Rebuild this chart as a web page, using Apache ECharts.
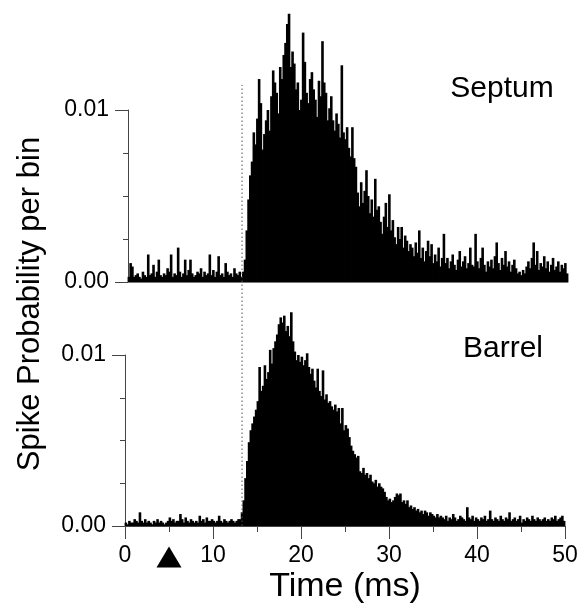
<!DOCTYPE html>
<html><head><meta charset="utf-8">
<script src="https://cdn.jsdelivr.net/npm/echarts@6/dist/echarts.min.js"></script>
<style>html,body{margin:0;padding:0;background:#fff}#c{width:581px;height:608px}</style>
</head><body><div id="c"></div>
<script>
// Peri-stimulus time histograms, 0.2 ms bins, values in units of 1e-4 spike probability per bin
const binWidthMs = 0.2;
const septumValues = [
  3,11,9,3,4,5,3,2,6,4, 3,16,4,5,10,3,6,13,4,3, 5,4,8,6,16,3,5,4,20,6,
  3,5,13,4,7,13,5,3,4,6, 5,8,3,6,4,5,16,4,7,3, 6,15,4,5,3,11,6,4,5,3,
  8,5,4,6,3,
  6,13,30,48,62, 70,87,80,95,118, 104,77,86,94,100, 88,108,123,116,110,
  98,125,118,132,139, 150,156,125,134,127, 112,116,100,106,145, 128,110,104,118,122,
  112,106,96,117,108, 140,116,110,94,101, 108,94,88,98,92, 84,126,87,83,90,
  78,73,90,72,67, 52,44,58,46,53, 65,50,40,48,38, 60,42,44,35,28,
  38,46,32,51,30, 36,26,22,32,25, 32,20,27,24,18, 22,20,15,23,17,
  30,14,20,12,18, 24,15,22,11,16, 12,20,9,14,28,
  11,14,8,12,16, 10,7,13,18,9, 12,15,8,11,20, 10,9,28,12,8,
  14,20,10,6,12, 9,13,8,15,23, 11,7,14,10,18, 9,12,6,10,13,
  8,5,6,4,7, 5,9,12,8,14, 23,10,18,7,11, 9,15,8,12,6,
  10,14,7,9,12, 6,10,8,11,5
];
const barrelValues = [
  2,1,3,2,2,4,3,2,8,3, 2,4,2,3,2,1,3,2,4,2, 3,2,1,2,3,5,3,4,2,3,
  3,7,4,2,5,3,2,4,3,2, 3,2,6,3,4,2,5,3,3,4, 3,2,3,6,3,2,4,3,2,3,
  4,3,2,3,4,
  4,8,15,28,38, 49,56,60,64,68, 73,93,79,82,94, 86,90,103,95,104,
  108,112,118,122,119, 123,114,117,111,125, 108,102,97,100,96, 99,94,97,101,93,
  89,92,85,81,92, 79,76,91,74,77, 72,73,70,68,71, 67,69,60,69,56,
  59,57,52,47,44, 42,40,41,32,31, 34,30,31,28,30, 26,25,27,23,25,
  23,22,20,17,15, 16,14,15,17,19, 18,19,14,15,13, 15,11,12,10,11,
  9,10,8,9,7, 9,8,6,8,7, 6,5,7,5,6,
  5,4,6,3,5,4,7,5,3,4, 6,5,4,3,11,5,4,6,3,5, 4,3,5,4,6,3,4,9,4,3,
  5,4,3,6,4,3,5,4,8,3, 4,5,3,4,6,2,4,3,5,4, 3,6,4,3,5,4,3,4,5,3,
  4,3,5,4,6,3,4,5,6,3
];
const xTickValues = [0, 10, 20, 30, 40, 50];
const yTickValues = [0.00, 0.01];
const stimulusTimeMs = [5];
const onsetTimeMs = [13.3];
const onsetLineTop = 0.0258; // upper end of the dotted onset line, in bottom-panel units
const panelLabels = ['Septum', 'Barrel'];

const FONT = '"Liberation Sans", Arial, Helvetica, sans-serif';
const AXIS_COLOR = '#444';

function toPairs(vals) {
  return vals.map((v, i) => [(i + 0.5) * binWidthMs, v / 10000]);
}

function yAxisCfg(gridIndex) {
  return {
    type: 'value', gridIndex: gridIndex,
    min: yTickValues[0], max: yTickValues[yTickValues.length - 1],
    interval: yTickValues[1] - yTickValues[0],
    axisLine: { show: true, lineStyle: { color: AXIS_COLOR, width: 1 } },
    axisTick: { show: true, length: 13, lineStyle: { color: AXIS_COLOR } },
    minorTick: { show: true, splitNumber: 4, length: 5, lineStyle: { color: AXIS_COLOR } },
    axisLabel: { show: true, formatter: v => v.toFixed(2), fontSize: 23, color: '#000', fontFamily: FONT, margin: 19 },
    splitLine: { show: false }, minorSplitLine: { show: false }
  };
}

const chart = echarts.init(document.getElementById('c'), null, { renderer: 'canvas' });
chart.setOption({
  animation: false,
  backgroundColor: '#fff',
  grid: [
    { left: 128, top: 110, width: 440, height: 172, containLabel: false, outerBoundsMode: 'none' },
    { left: 125, top: 355, width: 440, height: 171, containLabel: false, outerBoundsMode: 'none' }
  ],
  xAxis: [
    { type: 'value', gridIndex: 0, min: xTickValues[0], max: xTickValues[xTickValues.length - 1], interval: 10,
      axisLine: { show: true, lineStyle: { color: '#777', width: 1 } },
      axisTick: { show: false }, axisLabel: { show: false }, splitLine: { show: false } },
    { type: 'value', gridIndex: 1, min: xTickValues[0], max: xTickValues[xTickValues.length - 1], interval: 10,
      axisLine: { show: true, lineStyle: { color: AXIS_COLOR, width: 1 } },
      axisTick: { show: true, length: 13, lineStyle: { color: AXIS_COLOR } },
      minorTick: { show: true, splitNumber: 2, length: 6, lineStyle: { color: AXIS_COLOR } },
      axisLabel: { show: true, fontSize: 23, color: '#000', fontFamily: FONT, margin: 18 },
      splitLine: { show: false }, minorSplitLine: { show: false },
      name: 'Time (ms)', nameLocation: 'middle', nameGap: 44,
      nameTextStyle: { fontSize: 34, color: '#000', fontFamily: FONT } }
  ],
  yAxis: [yAxisCfg(0), yAxisCfg(1)],
  graphic: [
    { type: 'text', x: 30, y: 304, rotation: Math.PI / 2,
      style: { text: 'Spike Probability per bin', font: '31px ' + FONT, fill: '#000', textAlign: 'center', textVerticalAlign: 'middle' } },
    { type: 'text', x: 502, y: 89,
      style: { text: panelLabels[0], font: '30px ' + FONT, fill: '#000', textAlign: 'center', textVerticalAlign: 'middle' } },
    { type: 'text', x: 503, y: 349,
      style: { text: panelLabels[1], font: '30px ' + FONT, fill: '#000', textAlign: 'center', textVerticalAlign: 'middle' } }
  ],
  series: [
    { type: 'bar', xAxisIndex: 0, yAxisIndex: 0, data: toPairs(septumValues), barWidth: 2.6,
      itemStyle: { color: '#000' }, clip: false, silent: true },
    { type: 'bar', xAxisIndex: 1, yAxisIndex: 1, data: toPairs(barrelValues), barWidth: 2.6,
      itemStyle: { color: '#000' }, clip: false, silent: true },
    { type: 'line', xAxisIndex: 1, yAxisIndex: 1, data: [[onsetTimeMs[0], 0], [onsetTimeMs[0], onsetLineTop]],
      symbol: 'none', clip: false, silent: true, z: 5,
      lineStyle: { color: '#555', width: 1, type: [1.5, 2.5] } },
    { type: 'scatter', xAxisIndex: 1, yAxisIndex: 1, data: stimulusTimeMs.map(t => [t, 0]),
      symbol: 'triangle', symbolSize: [25, 21], symbolOffset: [0, 31], clip: false, silent: true,
      itemStyle: { color: '#000', opacity: 1 } }
  ]
});
</script>
</body></html>
